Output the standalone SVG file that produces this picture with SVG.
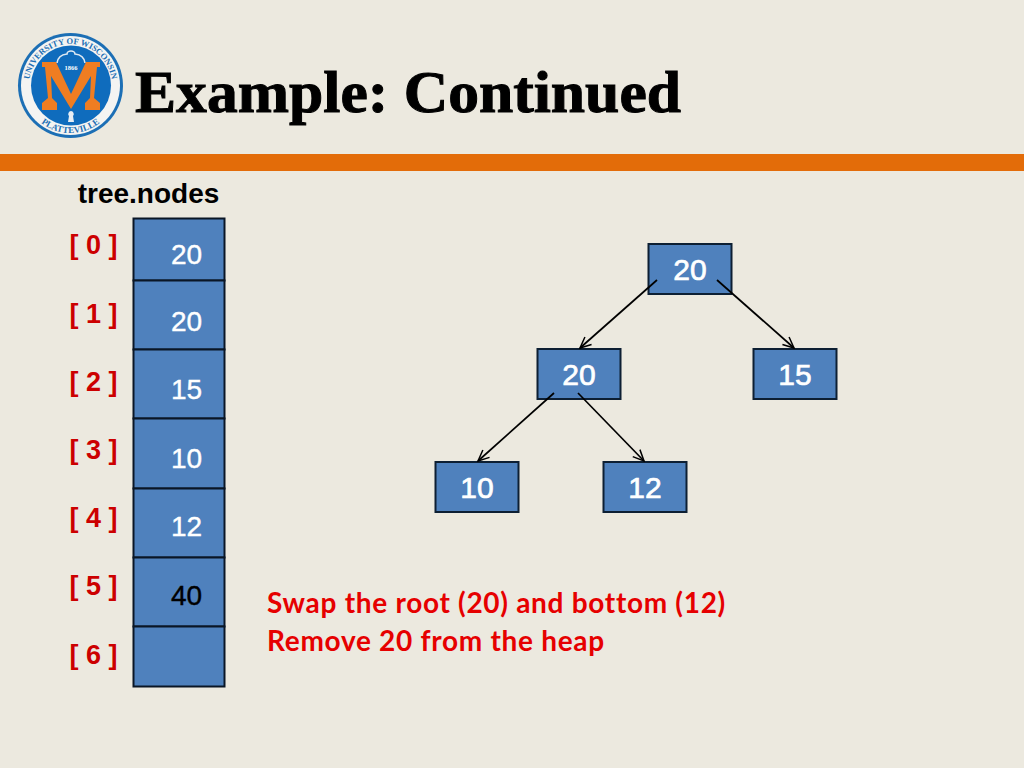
<svg xmlns="http://www.w3.org/2000/svg" xmlns:xlink="http://www.w3.org/1999/xlink" width="1024" height="768" viewBox="0 0 1024 768">
<style>
.box{fill:#4f81bd;stroke:#0d1f33;stroke-width:2}
.cell{fill:#4f81bd;stroke:#0a1626;stroke-width:2}
.v{font-family:"Liberation Sans",Arial,sans-serif;font-size:30px;fill:#fff;text-anchor:middle;stroke:#fff;stroke-width:.7}
.c{font-family:"Liberation Sans",Arial,sans-serif;font-size:28px;fill:#fff;text-anchor:middle;stroke:#fff;stroke-width:.4}
.i{font-family:"Liberation Sans",Arial,sans-serif;font-size:27px;font-weight:700;fill:#cc0000;text-anchor:middle}
.m{font-family:Lato,sans-serif;font-size:28px;font-weight:700;fill:#e60000;letter-spacing:.7px}
.e{stroke:#000;stroke-width:1.7;fill:none;marker-end:url(#a)}
.lt{font-family:"Liberation Serif",serif;font-weight:700;fill:#1c6fb5}
</style>
<defs>
<marker id="a" markerWidth="14" markerHeight="12" refX="12" refY="6" orient="auto" markerUnits="userSpaceOnUse"><path d="M1,1 L12,6 L1,11" fill="none" stroke="#000" stroke-width="1.5"/></marker>
<path id="top" d="M34.600,106.250 A41.500,41.500 0 1 1 106.400,106.250"/>
<path id="bot" d="M23.700,93.700 A47.500,47.500 0 0 0 117.300,93.700"/>
</defs>
<rect width="1024" height="768" fill="#ece9df"/>
<rect y="154" width="1024" height="17" fill="#e36c09"/>
<g id="logo">
<circle cx="70.500" cy="85.500" r="52.500" fill="#1c6fb5"/>
<circle cx="70.500" cy="85.500" r="49.500" fill="#f4f4f2"/>
<circle cx="71" cy="85.500" r="40" fill="#0f6cbd"/>
<text class="lt" font-size="8.500"><textPath xlink:href="#top" startOffset="50%" text-anchor="middle">UNIVERSITY OF WISCONSIN</textPath></text>
<text class="lt" font-size="9"><textPath xlink:href="#bot" startOffset="50%" text-anchor="middle">PLATTEVILLE</textPath></text>
<path d="M57,63 Q58,55 67,54 a4,3 0 0 1 8,0 Q84,55 85,63" fill="none" stroke="#dfe9f2" stroke-width="1.600"/>
<text x="71" y="70" font-family="'Liberation Serif',serif" font-size="6.500" font-weight="700" fill="#fff" text-anchor="middle">1866</text>
<path d="M42,62 H56 L71,94 L86,62 H100 V67 H97 L94,98 L100,103 V110 H85 V103 L90,98 L91,76 L71,109 L51,76 L52,98 L57,103 V110 H42 V103 L48,98 L45,67 H42 Z" fill="#ef7d22"/>
<path d="M71,111 a3,3 0 0 1 2,5 l1,6 h-6 l1,-6 a3,3 0 0 1 2,-5 Z" fill="#e8eef4"/>
</g>
<text id="title" x="135" y="112" font-family="'Liberation Serif',serif" font-size="60" font-weight="700" fill="#000" stroke="#000" stroke-width="1" textLength="546" lengthAdjust="spacingAndGlyphs">Example: Continued</text>
<text id="label" x="148.500" y="203" font-family="'Liberation Sans',sans-serif" font-size="28" font-weight="700" text-anchor="middle" fill="#000">tree.nodes</text>
<g id="array">
<rect class="cell" x="133.500" y="218.500" width="91" height="62"/>
<rect class="cell" x="133.500" y="280.500" width="91" height="69"/>
<rect class="cell" x="133.500" y="349.500" width="91" height="69"/>
<rect class="cell" x="133.500" y="418.500" width="91" height="70"/>
<rect class="cell" x="133.500" y="488.500" width="91" height="69"/>
<rect class="cell" x="133.500" y="557.500" width="91" height="69"/>
<rect class="cell" x="133.500" y="626.500" width="91" height="60"/>
<text class="c" x="186.500" y="264">20</text>
<text class="c" x="186.500" y="331">20</text>
<text class="c" x="186.500" y="399">15</text>
<text class="c" x="186.500" y="468">10</text>
<text class="c" x="186.500" y="536">12</text>
<text class="c" x="186.500" y="605" style="fill:#000;stroke:#000">40</text>
</g>
<g id="indices">
<text class="i" x="93.500" y="254">[ 0 ]</text>
<text class="i" x="93.500" y="323">[ 1 ]</text>
<text class="i" x="93.500" y="391">[ 2 ]</text>
<text class="i" x="93.500" y="459">[ 3 ]</text>
<text class="i" x="93.500" y="527">[ 4 ]</text>
<text class="i" x="93.500" y="595">[ 5 ]</text>
<text class="i" x="93.500" y="664">[ 6 ]</text>
</g>
<g id="n1"><rect class="box" x="648.500" y="244" width="83" height="50"/><text class="v" x="690" y="280">20</text></g>
<g id="n2"><rect class="box" x="537.500" y="349" width="83" height="50"/><text class="v" x="579" y="385">20</text></g>
<g id="n3"><rect class="box" x="753.500" y="349" width="83" height="50"/><text class="v" x="795" y="385">15</text></g>
<g id="n4"><rect class="box" x="435.500" y="462" width="83" height="50"/><text class="v" x="477" y="498">10</text></g>
<g id="n5"><rect class="box" x="603.500" y="462" width="83" height="50"/><text class="v" x="645" y="498">12</text></g>
<g id="connectors">
<line class="e" x1="657" y1="280" x2="580" y2="348"/>
<line class="e" x1="717" y1="280" x2="794" y2="348"/>
<line class="e" x1="554" y1="393" x2="478" y2="461"/>
<line class="e" x1="578" y1="393" x2="644" y2="461"/>
</g>
<g id="note">
<text class="m" x="267" y="613">Swap the root (20) and bottom (12)</text>
<text class="m" x="267" y="651" letter-spacing=".6">Remove 20 from the heap</text>
</g>
</svg>
